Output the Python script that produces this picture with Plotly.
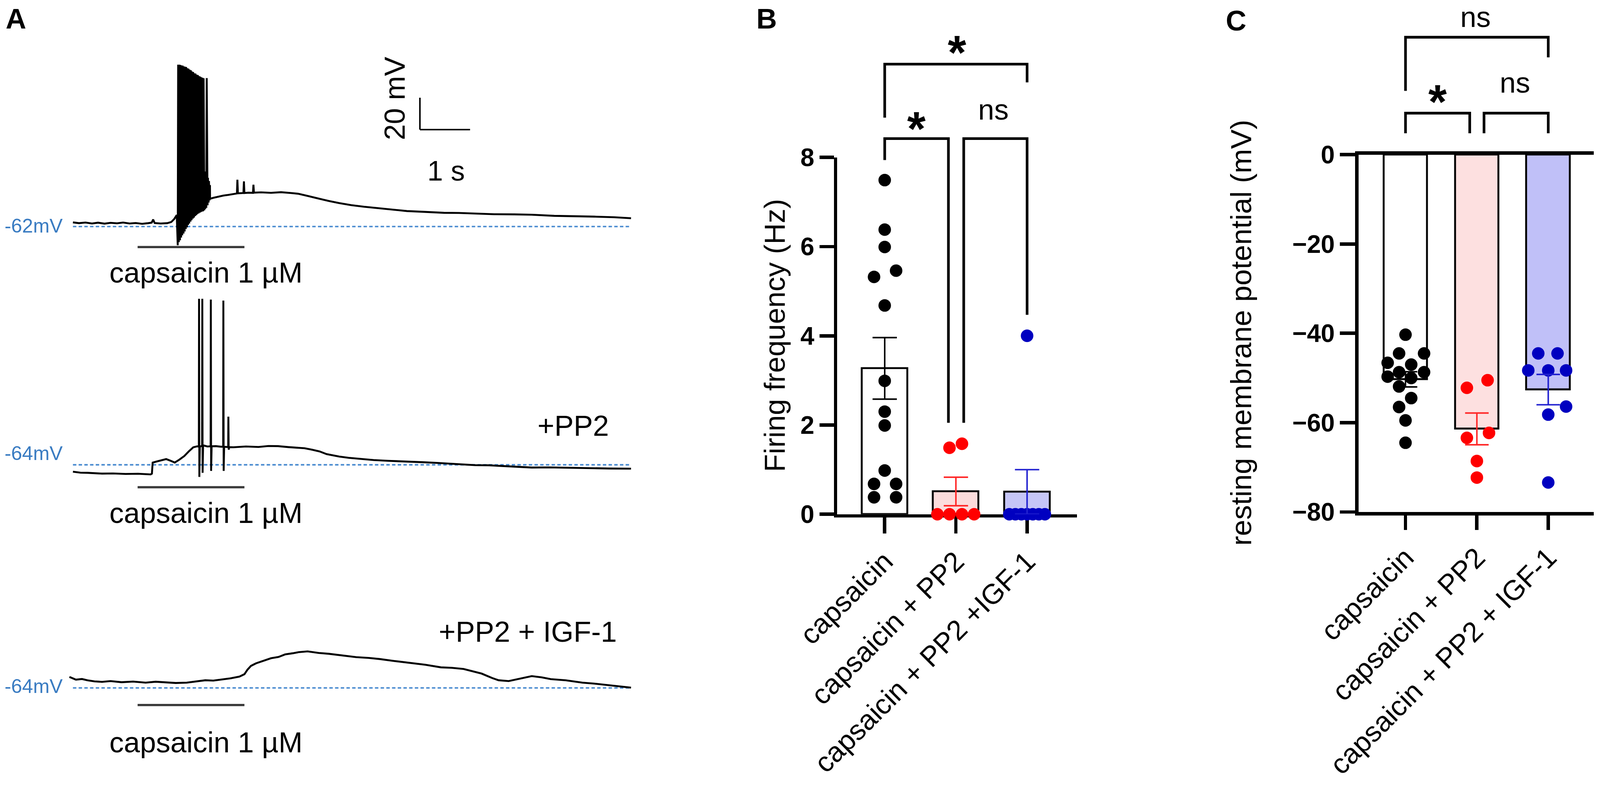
import plotly.graph_objects as go

W, H = 4212, 2052
FONT = "Liberation Sans, Arial, sans-serif"

# ---------------- panel A: current-clamp traces (time in s, Vm in mV) ----------------
# trace 1, control (-62 mV)
t1_pre = [0.0, 0.12, 0.25, 0.38, 0.5, 0.63, 0.75, 0.88, 1.0, 1.13, 1.25, 1.38, 1.5, 1.57,
          1.6, 1.63, 1.75, 1.88, 1.96, 2.02, 2.07]
v1_pre = [-59.4, -59.9, -59.5, -60.1, -59.6, -60.2, -59.7, -60.0, -59.5, -60.1, -59.8, -60.3,
          -59.9, -59.6, -57.6, -59.8, -60.1, -59.9, -59.2, -57.3, -54.8]
burst_t = [2.09, 2.112, 2.135, 2.158, 2.18, 2.205, 2.228, 2.25, 2.274, 2.297, 2.32, 2.344,
           2.366, 2.39, 2.413, 2.436, 2.46, 2.482, 2.506, 2.53, 2.552, 2.575, 2.598,
           2.62, 2.64, 2.66, 2.685, 2.705, 2.725]
burst_peak = [39.4, 39.4, 39.2, 38.9, 38.8, 38.3, 38.1, 37.9, 37.2, 36.9, 36.2, 35.9, 35.1,
              34.8, 34.0, 33.8, 33.1, 32.9, 32.2, 31.9, 31.5, 31.2, 30.9,
              -27.5, -29.0, 31.0, -31.5, -33.5, -36.0]
burst_trough = [-73.7, -71.8, -70.6, -68.9, -67.5, -66.4, -65.1, -63.6, -62.5, -61.0, -60.1,
                -58.9, -58.0, -57.1, -56.4, -55.5, -54.9, -54.2, -53.8, -53.3, -52.9, -52.6,
                -52.4, -51.8, -51.0, -50.3, -48.7, -47.0, -45.6]
t1_post = [2.735, 2.8, 2.9, 3.0, 3.1, 3.2, 3.27, 3.28, 3.29, 3.4, 3.41, 3.42, 3.5, 3.59, 3.6,
           3.61, 3.75, 3.95, 4.15, 4.35, 4.5, 4.7, 4.9, 5.1, 5.31, 5.55, 5.8, 6.12, 6.4, 6.66,
           7.0, 7.4, 7.7, 8.02, 8.4, 8.8, 9.15, 9.6, 10.0, 10.4, 10.8, 11.13]
v1_post = [-44.6, -44.0, -43.2, -42.6, -42.2, -41.7, -41.3, -32.7, -41.2, -41.0, -33.7, -41.0,
           -40.8, -40.9, -35.8, -40.8, -40.6, -40.9, -40.5, -41.0, -41.5, -43.0, -44.6, -46.0,
           -47.3, -48.6, -49.6, -50.6, -51.6, -52.3, -52.8, -53.4, -53.5, -53.9, -54.3, -54.4,
           -54.6, -55.3, -55.5, -55.8, -56.2, -56.8]

# trace 2, +PP2 (-64 mV)
t2_base = [0.0, 0.15, 0.29, 0.45, 0.58, 0.8, 1.05, 1.3, 1.55, 1.575, 1.59, 1.66, 1.73, 1.86,
           1.95, 2.03, 2.12, 2.22, 2.31, 2.40, 2.48, 2.61, 2.68, 2.85, 2.94, 3.2, 3.45, 3.7,
           3.9, 4.09, 4.3, 4.45, 4.62, 4.77, 4.92, 5.06, 5.31, 5.5, 5.74, 6.0, 6.3, 6.66, 7.0,
           7.26, 7.6, 8.02, 8.3, 8.55, 8.85, 9.15, 9.5, 9.91, 10.3, 10.7, 11.13]
v2_base = [-68.3, -68.9, -69.0, -69.3, -69.5, -69.4, -69.7, -69.6, -70.0, -69.5, -62.6, -62.0,
           -61.4, -60.4, -61.5, -62.6, -60.8, -58.5, -55.6, -53.0, -52.4, -51.9, -52.5, -52.3,
           -52.6, -53.0, -52.5, -52.8, -52.2, -52.3, -52.9, -53.3, -53.6, -54.5, -55.6, -57.3,
           -58.8, -59.6, -60.4, -61.0, -61.5, -62.1, -62.4, -62.8, -63.5, -64.2, -64.3, -64.7,
           -65.2, -65.7, -65.6, -65.9, -66.0, -66.3, -66.4]
spk2_t = [2.515, 2.58, 2.75, 3.0, 3.1]
spk2_base = [-52.6, -52.1, -52.4, -52.7, -52.9]
spk2_peak = [40.0, 40.0, 39.5, 38.9, -33.8]
spk2_trough = [-71.6, -69.0, -67.8, -67.8, -54.5]

# trace 3, +PP2 + IGF-1 (-64 mV)
t3 = [-0.07, 0.06, 0.18, 0.29, 0.43, 0.58, 0.75, 0.97, 1.2, 1.45, 1.65, 1.88, 2.05, 2.27, 2.45,
      2.64, 2.8, 2.94, 3.14, 3.32, 3.42, 3.48, 3.55, 3.65, 3.77, 3.95, 4.1, 4.23, 4.38, 4.5,
      4.68, 4.9, 5.1, 5.36, 5.65, 5.9, 6.12, 6.4, 6.66, 7.03, 7.34, 7.55, 7.79, 7.98, 8.15,
      8.36, 8.49, 8.69, 8.92, 9.15, 9.35, 9.53, 9.83, 10.16, 10.4, 10.67, 10.9, 11.13]
v3 = [-57.1, -58.8, -58.4, -59.2, -59.9, -60.2, -59.7, -60.4, -60.0, -60.7, -60.1, -60.4, -60.9,
      -60.7, -60.0, -59.2, -59.4, -58.8, -58.0, -56.9, -55.4, -52.6, -50.2, -48.6, -47.3, -45.4,
      -44.6, -43.0, -42.3, -41.6, -41.1, -42.1, -42.6, -43.5, -44.7, -45.2, -45.9, -47.1, -48.0,
      -49.5, -51.1, -51.4, -52.1, -53.5, -55.0, -57.8, -59.2, -59.7, -58.3, -56.6, -57.4, -58.5,
      -59.2, -60.7, -61.3, -62.3, -62.9, -63.8]

rest_mv = [-62, -64, -64]
rest_labels = ["-62mV", "-64mV", "-64mV"]
trace_end_s = 11.13
stim_on, stim_off = 1.29, 3.42
scale_bar_mv, scale_bar_s = 20, 1

# ---------------- panel B: firing frequency (Hz) ----------------
groups_b = ["capsaicin", "capsaicin + PP2", "capsaicin + PP2 +IGF-1"]
freq_cap = [7.49, 6.38, 5.99, 5.46, 5.32, 4.68, 2.99, 2.3, 1.99, 0.98, 0.68, 0.68, 0.38, 0.38]
freq_cap_dx = [0, 0, 0, 0.16, -0.15, 0, 0, 0, 0, 0, -0.15, 0.16, -0.15, 0.16]
freq_pp2 = [1.49, 1.58, 0, 0, 0, 0]
freq_pp2_dx = [-0.09, 0.085, -0.26, -0.09, 0.085, 0.256]
freq_igf = [4.0, 0, 0, 0, 0, 0, 0, 0]
freq_igf_dx = [0, -0.25, -0.165, -0.08, 0, 0.08, 0.165, 0.25]
freq_mean = [3.27, 0.51, 0.5]
freq_sem = [0.69, 0.32, 0.5]

# ---------------- panel C: resting membrane potential (mV) ----------------
groups_c = ["capsaicin", "capsaicin + PP2", "capsaicin + PP2 + IGF-1"]
rmp_cap = [-40.3, -44.5, -44.5, -46.6, -47.0, -48.7, -48.7, -49.7, -50.0, -51.9, -54.5, -56.5,
           -59.5, -64.5]
rmp_cap_dx = [0, -0.09, 0.26, -0.25, 0.08, -0.09, 0.26, -0.25, 0.08, -0.09, 0.08, -0.09, 0, 0]
rmp_pp2 = [-50.5, -52.2, -62.3, -63.4, -68.6, -72.3]
rmp_pp2_dx = [0.15, -0.14, 0.17, -0.14, 0, 0]
rmp_igf = [-44.5, -44.5, -48.3, -48.3, -48.3, -56.4, -58.2, -73.4]
rmp_igf_dx = [-0.14, 0.13, -0.28, 0, 0.25, 0.25, 0, 0]
rmp_mean = [-50.3, -61.4, -52.6]
rmp_sem = [1.7, 3.55, 3.4]

dot_colors = ["#000000", "#ff0000", "#0000c0"]
err_colors = ["#000000", "#ff2a2a", "#2222d0"]
fill_b = ["#ffffff", "#fbdcdc", "#c6c6f7"]
fill_c = ["#ffffff", "#fde0e0", "#c0c0f8"]

# significance brackets: x0, x1, top, left-leg end, right-leg end (axis units)
brk_b = [(0, 0.895, 8.42, 7.94, 2.05), (1.11, 2, 8.42, 2.05, 4.47), (0, 2, 10.09, 8.89, 9.68)]
brk_c = [(0, 0.9, 9.3, 4.8, 4.8), (1.1, 2, 9.3, 4.8, 4.8), (0, 2, 26.3, 14.3, 21.8)]


def fx(x):
    return x / W


def fy(y):
    return 1 - y / H


fig = go.Figure()

# ---- panel A geometry (pixels)
T0_PX, PX_PER_S, PX_PER_MV = 192, 132, 4.2
A_LEFT, A_RIGHT = 150, 1700
a_rows = [(596, 100, 700), (1223, 720, 1300), (1810, 1400, 1905)]   # rest line px, top, bottom
t_range = [(A_LEFT - T0_PX) / PX_PER_S, (A_RIGHT - T0_PX) / PX_PER_S]

tA1 = list(t1_pre)
vA1 = list(v1_pre)
for t, pk, tr in zip(burst_t, burst_peak, burst_trough):
    tA1 += [t, t + 0.008]
    vA1 += [tr, pk]
tA1 += t1_post
vA1 += v1_post

pts2 = list(zip(t2_base, v2_base))
for t, b, pk, tr in zip(spk2_t, spk2_base, spk2_peak, spk2_trough):
    pts2 += [(t - 0.004, b), (t, pk), (t + 0.006, tr), (t + 0.016, b)]
pts2.sort()
tA2 = [p[0] for p in pts2]
vA2 = [p[1] for p in pts2]

traces_a = [(tA1, vA1), (tA2, vA2), (t3, v3)]
layout_axes = {}
for i, ((tt, vv), (ref, top, bot)) in enumerate(zip(traces_a, a_rows)):
    n = "" if i == 0 else str(i + 1)
    fig.add_trace(go.Scatter(x=[0, trace_end_s], y=[rest_mv[i]] * 2, mode="lines",
                             line=dict(color="#4a8bd0", width=4, dash="9px,6px"),
                             xaxis="x" + n, yaxis="y" + n, hoverinfo="skip"))
    fig.add_trace(go.Scatter(x=tt, y=vv, mode="lines", line=dict(color="black", width=5),
                             xaxis="x" + n, yaxis="y" + n))
    v0 = rest_mv[i]
    layout_axes["xaxis" + n] = dict(domain=[fx(A_LEFT), fx(A_RIGHT)], range=t_range,
                                    visible=False, anchor="y" + n)
    layout_axes["yaxis" + n] = dict(domain=[fy(bot), fy(top)], visible=False, anchor="x" + n,
                                    range=[v0 - (bot - ref) / PX_PER_MV, v0 + (ref - top) / PX_PER_MV])

# ---- panel B
fig.add_trace(go.Bar(x=[0, 1, 2], y=freq_mean, width=0.64, xaxis="x4", yaxis="y4",
                     marker=dict(color=fill_b, line=dict(color="black", width=5))))
for vals, dx, k in [(freq_cap, freq_cap_dx, 0), (freq_pp2, freq_pp2_dx, 1), (freq_igf, freq_igf_dx, 2)]:
    fig.add_trace(go.Scatter(x=[k + d for d in dx], y=vals, mode="markers", xaxis="x4", yaxis="y4",
                             marker=dict(size=33, color=dot_colors[k]), cliponaxis=False))
for k in range(3):
    fig.add_trace(go.Scatter(x=[k], y=[freq_mean[k]], mode="markers", xaxis="x4", yaxis="y4",
                             marker=dict(size=1, color="rgba(0,0,0,0)"), cliponaxis=False,
                             error_y=dict(type="data", array=[freq_sem[k]], color=err_colors[k],
                                          thickness=4, width=32)))

# ---- panel C
fig.add_trace(go.Bar(x=[0, 1, 2], y=rmp_mean, width=0.61, xaxis="x5", yaxis="y5",
                     marker=dict(color=fill_c, line=dict(color="black", width=5))))
for vals, dx, k in [(rmp_cap, rmp_cap_dx, 0), (rmp_pp2, rmp_pp2_dx, 1), (rmp_igf, rmp_igf_dx, 2)]:
    fig.add_trace(go.Scatter(x=[k + d for d in dx], y=vals, mode="markers", xaxis="x5", yaxis="y5",
                             marker=dict(size=33, color=dot_colors[k]), cliponaxis=False))
for k in range(3):
    fig.add_trace(go.Scatter(x=[k], y=[rmp_mean[k]], mode="markers", xaxis="x5", yaxis="y5",
                             marker=dict(size=1, color="rgba(0,0,0,0)"), cliponaxis=False,
                             error_y=dict(type="data", array=[rmp_sem[k]], color=err_colors[k],
                                          thickness=4, width=31)))

axis_common = dict(showgrid=False, zeroline=False, showline=True, linecolor="black", linewidth=9,
                   ticks="outside", tickcolor="black", tickwidth=9, automargin=False)
tickfont_num = dict(family=FONT, size=66, color="black", weight="bold")
tickfont_cat = dict(family=FONT, size=74, color="black")

B_L, B_R, B_TOP, B_BOT = 2204, 2835, 414, 1353
C_L, C_R, C_TOP, C_BOT = 3576, 4196, 407, 1347
b_xr, b_yr = [-0.667, 2.70], [0, 8]
c_xr, c_yr = [-0.66, 2.64], [-80, 0]

layout_axes["xaxis4"] = dict(axis_common, domain=[fx(B_L), fx(B_R)], range=b_xr,
                             anchor="y4", tickvals=[0, 1, 2], ticktext=groups_b, ticklen=42,
                             tickangle=-45, tickfont=tickfont_cat, layer="below traces")
layout_axes["yaxis4"] = dict(axis_common, domain=[fy(B_BOT), fy(B_TOP)], range=b_yr, anchor="x4",
                             tickvals=[0, 2, 4, 6, 8], ticklen=38, tickfont=tickfont_num)
layout_axes["xaxis5"] = dict(axis_common, domain=[fx(C_L), fx(C_R)], range=c_xr,
                             anchor="y5", tickvals=[0, 1, 2], ticktext=groups_c, ticklen=38,
                             tickangle=-45, tickfont=tickfont_cat, mirror=True)
layout_axes["yaxis5"] = dict(axis_common, domain=[fy(C_BOT), fy(C_TOP)], range=c_yr, anchor="x5",
                             tickvals=[-80, -60, -40, -20, 0], ticklen=40, tickfont=tickfont_num)

# overlay axes (same scale, taller domain) so the brackets above the plots are not clipped
for ax, (L, R, TOP, BOT, xr, yr, brk) in {
        "6": (B_L, B_R, B_TOP, B_BOT, b_xr, b_yr, brk_b),
        "7": (C_L, C_R, C_TOP, C_BOT, c_xr, c_yr, brk_c)}.items():
    per_px = (yr[1] - yr[0]) / (BOT - TOP)
    layout_axes["xaxis" + ax] = dict(domain=[fx(L), fx(R)], range=xr, visible=False,
                                     anchor="y" + ax, overlaying="x4" if ax == "6" else "x5")
    layout_axes["yaxis" + ax] = dict(domain=[fy(BOT), 1], range=[yr[0], yr[0] + BOT * per_px],
                                     visible=False, anchor="x" + ax)
    for x0, x1, top, yl, yr_ in brk:
        fig.add_trace(go.Scatter(x=[x0, x0, x1, x1], y=[yl, top, top, yr_], mode="lines",
                                 line=dict(color="black", width=7), xaxis="x" + ax,
                                 yaxis="y" + ax, hoverinfo="skip"))

# ---- shapes: stimulus bars, scale bar
shapes = []
for ybar, n in [(650, ""), (1282, "2"), (1855, "3")]:
    shapes.append(dict(type="line", xref="x" + n, yref="paper", x0=stim_on, x1=stim_off,
                       y0=fy(ybar), y1=fy(ybar), line=dict(color="#3a3a3a", width=6)))
sb_t, sb_v = 6.92, -1.3
shapes.append(dict(type="line", xref="x", yref="y", x0=sb_t, x1=sb_t, y0=sb_v,
                   y1=sb_v + scale_bar_mv, line=dict(color="black", width=4)))
shapes.append(dict(type="line", xref="x", yref="y", x0=sb_t, x1=sb_t + scale_bar_s, y0=sb_v,
                   y1=sb_v, line=dict(color="black", width=4)))

# ---- annotations
anns = []


def ann(text, x, y, size=76, color="black", bold=False, xanchor="center", angle=0,
        yanchor="middle"):
    anns.append(dict(text=text, x=fx(x), y=fy(y), xref="paper", yref="paper", showarrow=False,
                     xanchor=xanchor, yanchor=yanchor, textangle=angle,
                     font=dict(family=FONT, size=size, color=color,
                               weight="bold" if bold else "normal")))


ann("A", 42, 49, 75, bold=True)
ann("B", 2018, 49, 75, bold=True)
ann("C", 3254, 54, 75, bold=True)
for lbl, yl in zip(rest_labels, [594, 1192, 1805]):
    ann(lbl, 167, yl, 52, color="#3a7cc2", xanchor="right")
for yl in [717, 1349, 1953]:
    ann("capsaicin 1 µM", 542, yl)
ann("+PP2", 1605, 1120, xanchor="right")
ann("+PP2 + IGF-1", 1626, 1662, xanchor="right")
ann("20 mV", 1038, 259, angle=-90)
ann("1 s", 1174, 449, 74)
ann("Firing frequency (Hz)", 2039, 883, 77, angle=-90)
ann("resting membrane potential (mV)", 3267, 876, 77, angle=-90)
for txt, x, y in [("*", 2412, 309), ("*", 2519, 109), ("*", 3784, 239)]:
    ann(txt, x, y + 28, 125, bold=True)
for txt, x, y in [("ns", 2615, 295), ("ns", 3988, 224)]:
    ann(txt, x, y - 7, 76)
ann("ns", 3884, 0, 76, yanchor="top")   # sits right at the top edge

fig.update_layout(width=W, height=H, margin=dict(l=0, r=0, t=0, b=0), template="none",
                  paper_bgcolor="white", plot_bgcolor="rgba(0,0,0,0)", showlegend=False,
                  bargap=0, shapes=shapes, annotations=anns, **layout_axes)

# fit the fixed-size figure into whatever viewport the page is opened in
fit_js = (
    "document.documentElement.style.overflow='hidden';"
    "document.body.style.margin='0';document.body.style.overflow='hidden';"
    "var gd=document.getElementById('{plot_id}');"
    "var s=Math.min(1, window.innerWidth/%d, window.innerHeight/%d);"
    "gd.style.transformOrigin='0 0';gd.style.transform='scale('+s+')';" % (W, H)
)
fig.write_html("out.html", config={"displayModeBar": False}, post_script=fit_js)
